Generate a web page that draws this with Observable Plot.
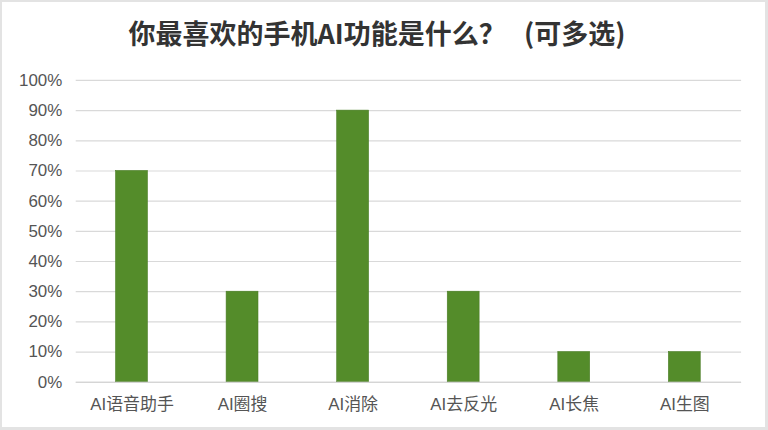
<!DOCTYPE html>
<html>
<head>
<meta charset="utf-8">
<script src="https://cdn.jsdelivr.net/npm/d3@7"></script>
<script src="https://cdn.jsdelivr.net/npm/@observablehq/plot@0.6"></script>
<style>
  html, body { margin: 0; padding: 0; background: #e6e6e6; }
  #frame {
    position: relative; width: 768px; height: 430px; box-sizing: border-box;
    background: #fff; border-top: 2px solid #e3e3e3; border-left: 2px solid #e3e3e3;
    border-right: 3px solid #e3e3e3; border-bottom: 3px solid #e3e3e3; overflow: hidden;
  }
  #title {
    position: absolute; left: 0; top: 13px; width: 750px; text-align: center;
    font-family: "Noto Sans CJK SC", sans-serif; font-weight: 700; font-size: 27px;
    color: #333; white-space: pre; line-height: 36px;
  }
  #chart { position: absolute; left: -2px; top: 62px; }
  #chart text { font-family: "Liberation Sans", "Noto Sans CJK SC", sans-serif; }
</style>
</head>
<body>
<div id="frame">
  <div id="title">你最喜欢的手机AI功能是什么？   (可多选)</div>
  <div id="chart"></div>
</div>
<script>
const categories = ["AI语音助手", "AI圈搜", "AI消除", "AI去反光", "AI长焦", "AI生图"];
const shares = [0.70, 0.30, 0.90, 0.30, 0.10, 0.10];
const yTicks = [0, 0.1, 0.2, 0.3, 0.4, 0.5, 0.6, 0.7, 0.8, 0.9, 1.0];

const data = categories.map((c, i) => ({category: c, value: shares[i]}));

const svgTop = 62;
const chart = Plot.plot({
  width: 768,
  height: 363,
  marginLeft: 76,
  marginRight: 24,
  marginTop: 78 - svgTop,
  marginBottom: 363 - (381 - svgTop),
  style: {fontSize: "17px", color: "#555", background: "transparent"},
  x: {domain: categories, paddingInner: 0.71, paddingOuter: 0.355, label: null, tickSize: 0, tickPadding: 16},
  y: {domain: [0, 1], label: null, ticks: yTicks, tickSize: 0, tickPadding: 14,
      tickFormat: d => Math.round(d * 100) + "%"},
  marks: [
    Plot.ruleY(yTicks, {stroke: "#d9d9d9", strokeWidth: 1.2}),
    Plot.barY(data, {x: "category", y: "value", fill: "#548c2a", stroke: "#4a7d25", strokeWidth: 0.6}),
    Plot.ruleY([0], {stroke: "#d0d0d0", strokeWidth: 1.2})
  ]
});
document.getElementById("chart").appendChild(chart);
</script>
</body>
</html>
